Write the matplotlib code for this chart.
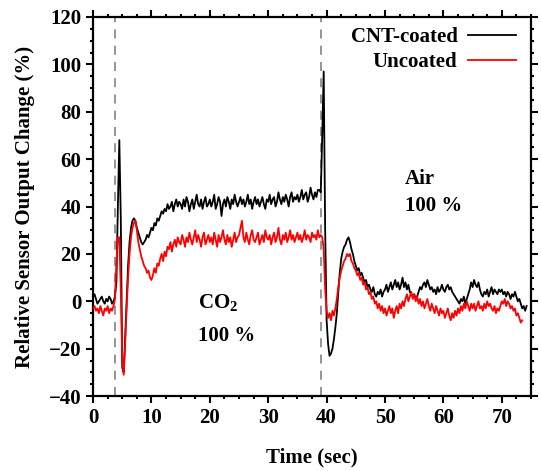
#!/usr/bin/env python3
"""Sensor response of CNT-coated vs uncoated sensor to CO2 / air switching."""
import numpy as np
import matplotlib
matplotlib.use('Agg')
import matplotlib.pyplot as plt
from matplotlib.ticker import MultipleLocator

# sample interval of the recorded traces (sec)
TIME_STEP = 0.25

# CNT-coated response (%), one row = 5 s
CNT_COATED = [
    2, 3, 1, -1, 0, 1, 2, 0, -1, 1, 0, 2, 1, -1, 0, 2, 8, 40, 68, 35,
    -28, -30, -15, 0, 15, 25, 31, 34, 35, 34, 31, 29, 27, 25, 24, 25, 26, 28, 27, 29,
    31, 30, 33, 32, 35, 34, 36, 38, 37, 39, 38, 41, 39, 40, 42, 38, 41, 43, 40, 42,
    41, 39, 43, 40, 44, 42, 38, 41, 43, 39, 42, 45, 41, 40, 43, 39, 42, 44, 40, 41,
    43, 40, 42, 45, 39, 41, 44, 42, 36, 41, 43, 40, 44, 42, 39, 43, 41, 45, 42, 40,
    42, 44, 41, 43, 40, 42, 45, 41, 43, 39, 42, 44, 41, 43, 40, 42, 44, 41, 39, 43,
    42, 45, 41, 43, 44, 40, 42, 46, 43, 41, 44, 42, 45, 43, 40, 44, 46, 42, 44, 43,
    45, 42, 44, 47, 43, 45, 46, 42, 44, 48, 45, 43, 46, 44, 47, 47, 46, 70, 97, 30,
    -8, -18, -23, -22, -20, -16, -11, -5, 4, 12, 18, 21, 23, 24, 26, 27, 25, 22, 20, 17,
    15, 13, 14, 11, 12, 10, 8, 9, 6, 7, 5, 4, 6, 3, 2, 4, 3, 5, 2, 4,
    5, 7, 4, 6, 8, 5, 7, 9, 6, 8, 5, 7, 10, 6, 8, 5, 7, 4, 3, 2,
    3, 1, 2, 4, 6, 5, 7, 8, 6, 9, 7, 5, 6, 4, 5, 3, 6, 4, 5, 7,
    5, 4, 6, 7, 5, 6, 4, 3, 2, 1, 0, -1, 1, 0, 2, -1, 1, 3, 5, 8,
    6, 9, 7, 6, 8, 5, 3, 2, 4, 3, 5, 2, 4, 6, 3, 5, 4, 3, 5, 4,
    5, 3, 4, 2, 4, 3, 1, 3, 2, 4, 2, 0, 1, -1, -3, -2, -4, -2,
]

# Uncoated response (%)
UNCOATED = [
    -3, -2, -4, -3, -5, -2, -4, -6, -3, -4, -2, -5, -3, -4, -2, 1, 16, 27, 27, 5,
    -25, -31, -18, -3, 10, 20, 27, 31, 33, 34, 30, 25, 22, 19, 17, 15, 14, 12, 13, 10,
    9, 11, 14, 12, 16, 15, 18, 20, 17, 21, 19, 23, 22, 25, 21, 24, 26, 23, 27, 25,
    24, 28, 26, 23, 27, 25, 29, 26, 24, 27, 30, 25, 28, 26, 23, 27, 29, 24, 26, 28,
    25, 27, 24, 29, 26, 23, 28, 25, 27, 30, 26, 24, 28, 25, 27, 23, 26, 29, 25, 27,
    28, 31, 34, 27, 25, 29, 26, 24, 28, 30, 26, 25, 27, 29, 24, 26, 28, 25, 30, 27,
    26, 28, 24, 27, 29, 25, 27, 31, 26, 24, 28, 26, 29, 25, 27, 30, 26, 28, 25, 27,
    29, 26, 28, 25, 27, 30, 26, 28, 27, 25, 29, 27, 28, 26, 30, 27, 28, 27, 22, 5,
    -4, -7, -5, -8, -4, -6, -3, 1, 6, 10, 13, 15, 17, 18, 20, 19, 20, 17, 16, 14,
    13, 11, 12, 9, 10, 7, 8, 5, 6, 3, 4, 1, 2, -1, 0, -3, -1, -4, -2, -5,
    -3, -6, -4, -2, -5, -3, -7, -4, -2, -5, -1, -3, 0, -2, 1, 3, 0, 2, 4, 1,
    3, 0, 2, -1, 1, -2, 0, -3, -1, 1, -2, -4, -1, -3, -5, -2, -4, -6, -3, -5,
    -4, -7, -5, -3, -6, -8, -5, -7, -4, -6, -3, -5, -2, -4, -1, -3, 0, -2, -4, -1,
    -3, -1, -4, -2, 0, -3, -2, -4, -1, -3, 0, -2, -1, -3, -4, -2, -5, -3, -4, -2,
    0, -1, 1, -2, 0, -1, -3, -2, -4, -3, -6, -5, -7, -9, -8,
]

# gas switching instants (sec)
SWITCH_TIMES = [3.7, 39.1]

plt.rcParams['font.family'] = ['Liberation Serif', 'DejaVu Serif']
plt.rcParams['font.weight'] = 'bold'
plt.rcParams['font.size'] = 15
plt.rcParams['mathtext.fontset'] = 'custom'
plt.rcParams['mathtext.rm'] = 'Liberation Serif:bold'
plt.rcParams['mathtext.bf'] = 'Liberation Serif:bold'

fig = plt.figure(figsize=(5.41, 4.71), dpi=100)
ax = fig.add_axes([0.172, 0.159, 0.8095, 0.805])

t_cnt = np.arange(len(CNT_COATED)) * TIME_STEP
t_unc = np.arange(len(UNCOATED)) * TIME_STEP

for ts in SWITCH_TIMES:
    ax.axvline(ts, color='#8c8c8c', lw=1.3, ls=(0, (5, 4)), zorder=1)

ax.plot(t_cnt, CNT_COATED, color='black', lw=1.3, label='CNT-coated', zorder=2)
ax.plot(t_unc, UNCOATED, color='#ff0000', lw=1.3, label='Uncoated', zorder=3)

ax.set_xlim(0, 75)
ax.set_ylim(-40, 120)
ax.xaxis.set_major_locator(MultipleLocator(10))
ax.xaxis.set_minor_locator(MultipleLocator(2.5))
ax.yaxis.set_major_locator(MultipleLocator(20))
ax.yaxis.set_minor_locator(MultipleLocator(5))
ax.tick_params(which='both', direction='out', top=True, right=True, width=1.5)
ax.tick_params(which='major', length=5)
ax.tick_params(which='minor', length=2.5)
for s in ax.spines.values():
    s.set_linewidth(1.6)

ax.set_xlabel('Time (sec)', fontweight='bold', labelpad=14)
ax.set_ylabel('Relative Sensor Output Change (%)', fontweight='bold', labelpad=10)

ax.text(17.9, -1, r'CO$_{\mathrm{2}}$', ha='left', va='center')
ax.text(17.9, -14.5, '100 %', ha='left', va='center')
ax.text(53.4, 51.8, 'Air', ha='left', va='center')
ax.text(53.4, 40.3, '100 %', ha='left', va='center')

ax.legend(loc='upper right', bbox_to_anchor=(0.975, 0.985), frameon=False,
          markerfirst=False, handlelength=2.3, handletextpad=0.5,
          labelspacing=0.25, borderaxespad=0, borderpad=0.2,
          prop={'weight': 'bold', 'size': 15})

fig.savefig('out.png', dpi=100)
